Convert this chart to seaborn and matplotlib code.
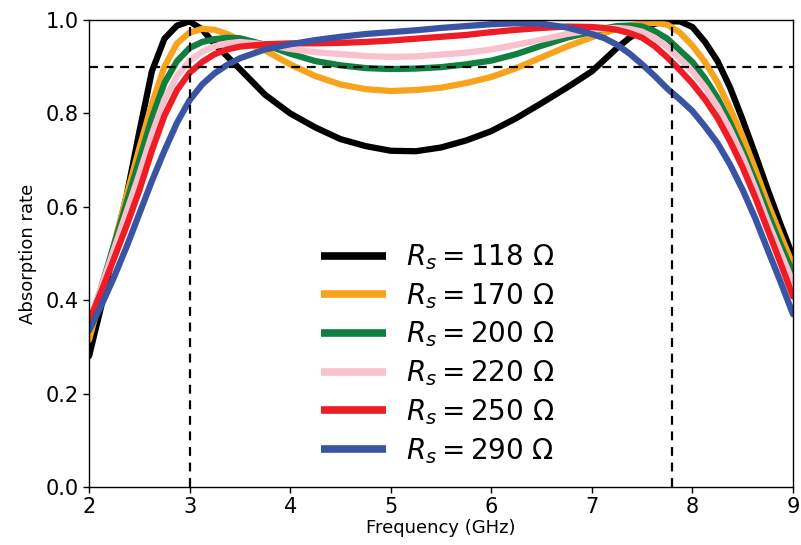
import numpy as np
import pandas as pd
import seaborn as sns
import matplotlib
matplotlib.use('Agg')
import matplotlib.pyplot as plt

# frequency grid (GHz): finer steps on the steep edges
freq = [2.0, 2.125, 2.25, 2.375, 2.5, 2.625, 2.75, 2.875, 3.0, 3.125, 3.25, 3.375, 3.5,
        3.75, 4.0, 4.25, 4.5, 4.75, 5.0, 5.25, 5.5, 5.75, 6.0, 6.25, 6.5, 6.75,
        7.0, 7.125, 7.25, 7.375, 7.5, 7.625, 7.75, 7.875, 8.0, 8.125, 8.25, 8.375,
        8.5, 8.625, 8.75, 8.875, 9.0]

rs_118 = [0.28, 0.39, 0.51, 0.625, 0.76, 0.89, 0.96, 0.988, 0.997, 0.98, 0.948, 0.922, 0.895,
          0.84, 0.80, 0.77, 0.745, 0.73, 0.72, 0.719, 0.727, 0.742, 0.762, 0.79, 0.822, 0.855,
          0.89, 0.915, 0.94, 0.962, 0.978, 0.992, 0.997, 0.997, 0.985, 0.953, 0.912, 0.855,
          0.786, 0.712, 0.636, 0.563, 0.493]
rs_170 = [0.315, 0.415, 0.52, 0.625, 0.725, 0.82, 0.90, 0.95, 0.973, 0.981, 0.979, 0.97, 0.957,
          0.935, 0.905, 0.88, 0.862, 0.852, 0.848, 0.85, 0.855, 0.865, 0.878, 0.897, 0.92, 0.943,
          0.963, 0.972, 0.981, 0.988, 0.993, 0.994, 0.99, 0.973, 0.945, 0.91, 0.866, 0.81,
          0.75, 0.68, 0.607, 0.54, 0.475]
rs_200 = [0.34, 0.43, 0.52, 0.61, 0.70, 0.79, 0.865, 0.912, 0.94, 0.953, 0.959, 0.962, 0.961,
          0.947, 0.928, 0.912, 0.903, 0.897, 0.895, 0.896, 0.899, 0.905, 0.913, 0.927, 0.945, 0.962,
          0.975, 0.982, 0.987, 0.988, 0.986, 0.976, 0.96, 0.935, 0.91, 0.875, 0.833, 0.78,
          0.72, 0.655, 0.586, 0.52, 0.458]
rs_220 = [0.35, 0.43, 0.51, 0.59, 0.67, 0.755, 0.83, 0.88, 0.913, 0.932, 0.944, 0.95, 0.953,
          0.948, 0.938, 0.931, 0.927, 0.923, 0.921, 0.922, 0.926, 0.93, 0.937, 0.947, 0.958, 0.97,
          0.978, 0.982, 0.983, 0.981, 0.975, 0.962, 0.942, 0.917, 0.89, 0.856, 0.815, 0.765,
          0.707, 0.64, 0.568, 0.503, 0.438]
rs_250 = [0.355, 0.42, 0.49, 0.56, 0.635, 0.72, 0.795, 0.85, 0.887, 0.91, 0.927, 0.937, 0.943,
          0.948, 0.95, 0.95, 0.951, 0.953, 0.956, 0.96, 0.964, 0.968, 0.974, 0.979, 0.983, 0.986,
          0.985, 0.983, 0.979, 0.972, 0.962, 0.944, 0.92, 0.893, 0.864, 0.83, 0.79, 0.74,
          0.684, 0.62, 0.55, 0.48, 0.408]
rs_290 = [0.335, 0.39, 0.45, 0.515, 0.585, 0.655, 0.72, 0.78, 0.828, 0.862, 0.886, 0.904, 0.918,
          0.937, 0.948, 0.957, 0.964, 0.97, 0.974, 0.978, 0.983, 0.987, 0.991, 0.993, 0.992, 0.984,
          0.97, 0.961, 0.947, 0.928, 0.905, 0.88, 0.853, 0.83, 0.805, 0.772, 0.736, 0.69,
          0.636, 0.575, 0.507, 0.44, 0.37]

labels = [r'$R_s = 118\ \Omega$', r'$R_s = 170\ \Omega$', r'$R_s = 200\ \Omega$',
          r'$R_s = 220\ \Omega$', r'$R_s = 250\ \Omega$', r'$R_s = 290\ \Omega$']
series = [rs_118, rs_170, rs_200, rs_220, rs_250, rs_290]
colors = ['#000000', '#f8a31c', '#0f803f', '#f9c1cd', '#ee1d25', '#3a54a4']

df = pd.concat([
    pd.DataFrame({'Frequency': freq, 'Absorption': vals, 'Rs': lab})
    for lab, vals in zip(labels, series)
], ignore_index=True)

sns.set_style('ticks')
plt.rcParams['font.family'] = ['DejaVu Sans']
plt.rcParams.update({'text.color': 'black', 'axes.labelcolor': 'black',
                     'xtick.color': 'black', 'ytick.color': 'black'})

fig = plt.figure(figsize=(8.01, 5.45), dpi=100)
ax = fig.add_axes([89 / 801, 1 - 487 / 545, 704 / 801, 467 / 545])

sns.lineplot(data=df, x='Frequency', y='Absorption', hue='Rs',
             palette=dict(zip(labels, colors)), hue_order=labels,
             linewidth=4.5, ax=ax)

# reference lines
ax.axhline(0.9, color='black', linestyle='--', linewidth=1.6, dashes=(4, 3))
ax.axvline(3.0, color='black', linestyle='--', linewidth=1.6, dashes=(4, 3))
ax.axvline(7.8, color='black', linestyle='--', linewidth=1.6, dashes=(4, 3))

ax.set_xlim(2, 9)
ax.set_ylim(0, 1)
ax.set_xticks(range(2, 10))
ax.set_yticks([0.0, 0.2, 0.4, 0.6, 0.8, 1.0])
ax.set_yticklabels(['0.0', '0.2', '0.4', '0.6', '0.8', '1.0'])
ax.tick_params(labelsize=15, length=4, width=1, color='black', labelcolor='black')
ax.set_xlabel('Frequency (GHz)', fontsize=13, labelpad=1)
ax.set_ylabel('Absorption rate', fontsize=13, labelpad=6)
for sp in ax.spines.values():
    sp.set_color('black')
    sp.set_linewidth(1.0)

leg = ax.legend(loc='center', bbox_to_anchor=(0.495, 0.285), frameon=False,
                fontsize=20, handlelength=2.35, labelspacing=0.32,
                handletextpad=0.7)
for line in leg.get_lines():
    line.set_linewidth(5.5)
    line.set_solid_capstyle('butt')
for t in leg.get_texts():
    t.set_color('black')

fig.savefig('out.png', dpi=100)
